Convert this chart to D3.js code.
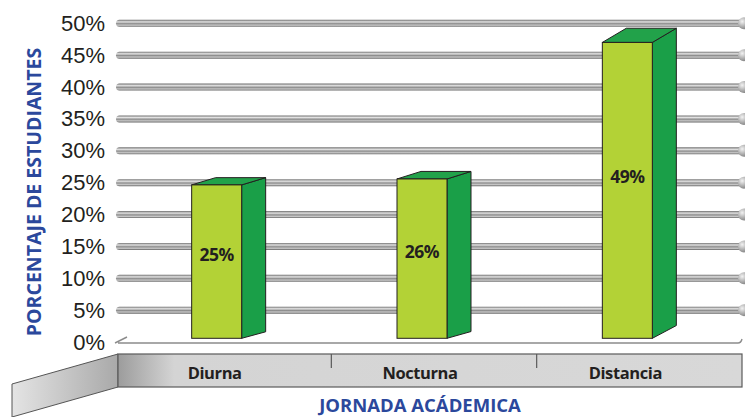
<!doctype html>
<html lang="es">
<head>
  <meta charset="utf-8">
  <title>Jornada académica</title>
  <style>
  body {
    margin: 0;
    background: #fff;
  }
  svg {
    display: block;
    font-family: "Open Sans", sans-serif;
  }
  .tick text {
    font-size: 22px;
    fill: #231f20;
  }
  .cat-label, .bar-label {
    font-weight: bold;
    fill: #231f20;
  }
  .title {
    font-weight: bold;
    fill: #2b489c;
  }
  </style>
</head>
<body>
  <div id="chart"></div>
  <script src="https://d3js.org/d3.v7.min.js"></script>
  <script>
var categories = ["Diurna", "Nocturna", "Distancia"];
var values = [25, 26, 49];
var tickValues = [0, 5, 10, 15, 20, 25, 30, 35, 40, 45, 50];
var yTitle = "PORCENTAJE DE ESTUDIANTES";
var xTitle = "JORNADA ACÁDEMICA";

(function() {

  var width = 745;
  var height = 417;

  var svg = d3.select("#chart")
      .append("svg")
      .attr("width", width)
      .attr("height", height);

  var defs = svg.append("defs");

  // tube look for the gridlines
  var tube = defs.append("linearGradient")
      .attr("id", "tube").attr("x1", 0).attr("y1", 0).attr("x2", 0).attr("y2", 1);
  [["0%", "#6e6e6e"], ["30%", "#e2e2e2"], ["55%", "#8e8e8e"], ["78%", "#c8c8c8"], ["100%", "#666"]]
    .forEach(function(s) { tube.append("stop").attr("offset", s[0]).attr("stop-color", s[1]); });

  var ball = defs.append("radialGradient")
      .attr("id", "ball").attr("cx", "35%").attr("cy", "35%").attr("r", "65%");
  ball.append("stop").attr("offset", "0%").attr("stop-color", "#f2f2f2");
  ball.append("stop").attr("offset", "100%").attr("stop-color", "#8a8a8a");

  var strip = defs.append("linearGradient")
      .attr("id", "strip").attr("x1", 0).attr("y1", 0).attr("x2", 1).attr("y2", 0);
  [["0%", "#9c9c9c"], ["9%", "#d4d4d4"], ["100%", "#d8d8d8"]]
    .forEach(function(s) { strip.append("stop").attr("offset", s[0]).attr("stop-color", s[1]); });

  var wing = defs.append("linearGradient")
      .attr("id", "wing").attr("x1", 0).attr("y1", 0).attr("x2", 1).attr("y2", 0);
  wing.append("stop").attr("offset", "0%").attr("stop-color", "#e4e4e4");
  wing.append("stop").attr("offset", "100%").attr("stop-color", "#a9a9a9");

  var y = d3.scaleLinear().domain([0, 50]).range([342, 23.3]);
  // bars are drawn a bit deeper in the scene
  var yBar = d3.scaleLinear().domain([0, 50]).range([333.3, 36.5]);
  var x = d3.scaleBand().domain(categories).range([126, 742]);

  var left = 116, right = 744;
  var floorY = y(0);
  var barBottom = 338.3;
  var frontW = 50, depthX = 24;

  // y tick labels
  var yAxis = d3.axisLeft(y)
      .tickValues(tickValues)
      .tickFormat(function(d) { return d + "%"; })
      .tickSize(0)
      .tickPadding(0);
  var ga = svg.append("g")
      .attr("transform", "translate(105,0)")
      .call(yAxis);
  ga.select(".domain").remove();
  ga.selectAll("text").attr("font-family", null).attr("font-size", null);

  // gridlines
  var grid = svg.append("g");
  var gv = tickValues.filter(function(d) { return d > 0; });
  grid.selectAll("rect").data(gv).enter().append("rect")
      .attr("x", left)
      .attr("y", function(d) { return y(d) - 3.5; })
      .attr("width", right - left)
      .attr("height", 7)
      .attr("rx", 3.5)
      .attr("fill", "url(#tube)");
  grid.selectAll("circle").data(gv).enter().append("circle")
      .attr("cx", right)
      .attr("cy", function(d) { return y(d); })
      .attr("r", 6)
      .attr("fill", "url(#ball)");

  // floor line
  svg.append("path")
      .attr("d", "M" + (left - 1) + "," + (floorY + 1) + "L" + (left + 11) + "," + (floorY - 5) +
        "M" + (left + 2) + "," + (floorY + 1) + "H" + (right - 6) + "Q" + (right - 3) + "," + (floorY + 1) + " " + (right - 2) + "," + (floorY - 3))
      .attr("fill", "none")
      .attr("stroke", "#8c8c8c")
      .attr("stroke-width", 1.4);

  // bars
  var bars = svg.append("g").selectAll("g").data(values).enter().append("g");

  function geom(d, i) {
    var c = x(categories[i]) + x.bandwidth() / 2;
    var x0 = c - (frontW + depthX) / 2;
    var x1 = x0 + frontW;
    var top = yBar(d);
    return { x0: x0, x1: x1, top: top, dt: -0.29 * d, db: -0.26 * d };
  }

  bars.append("path")
      .attr("d", function(d, i) {
        var g = geom(d, i);
        return "M" + g.x1 + "," + g.top + "L" + (g.x1 + depthX) + "," + (g.top + g.dt) +
          "L" + (g.x1 + depthX) + "," + (barBottom + g.db) + "L" + g.x1 + "," + barBottom + "Z";
      })
      .attr("fill", "#1a9f48")
      .attr("stroke", "#231f20")
      .attr("stroke-width", 1)
      .attr("stroke-linejoin", "round");

  bars.append("path")
      .attr("d", function(d, i) {
        var g = geom(d, i);
        return "M" + g.x0 + "," + g.top + "L" + (g.x0 + depthX) + "," + (g.top + g.dt) +
          "L" + (g.x1 + depthX) + "," + (g.top + g.dt) + "L" + g.x1 + "," + g.top + "Z";
      })
      .attr("fill", "#22a24a")
      .attr("stroke", "#231f20")
      .attr("stroke-width", 1)
      .attr("stroke-linejoin", "round");

  bars.append("rect")
      .attr("x", function(d, i) { return geom(d, i).x0; })
      .attr("y", function(d, i) { return geom(d, i).top; })
      .attr("width", frontW)
      .attr("height", function(d, i) { return barBottom - geom(d, i).top; })
      .attr("fill", "#b3d236")
      .attr("stroke", "#231f20")
      .attr("stroke-width", 1);

  bars.append("text")
      .attr("class", "bar-label")
      .attr("x", function(d, i) { return geom(d, i).x0 + frontW / 2; })
      .attr("y", function(d, i) { var g = geom(d, i); return g.top + (barBottom - g.top) * 0.45; })
      .attr("text-anchor", "middle")
      .attr("dominant-baseline", "central")
      .attr("font-size", 17.5)
      .attr("letter-spacing", -0.5)
      .text(function(d) { return d + "%"; });

  // category strip
  var stripTop = 354, stripBottom = 387;
  svg.append("path")
      .attr("d", "M" + (left + 2) + "," + stripTop + "L12,384L12,417L" + (left + 2) + "," + stripBottom + "Z")
      .attr("fill", "url(#wing)")
      .attr("stroke", "#555")
      .attr("stroke-width", 1);
  svg.append("rect")
      .attr("x", left + 2)
      .attr("y", stripTop)
      .attr("width", 742 - left - 2)
      .attr("height", stripBottom - stripTop)
      .attr("fill", "url(#strip)")
      .attr("stroke", "#5a5a5a")
      .attr("stroke-width", 1.2);

  svg.append("g").selectAll("line").data(categories.slice(1)).enter().append("line")
      .attr("x1", function(d) { return x(d); })
      .attr("x2", function(d) { return x(d); })
      .attr("y1", stripTop)
      .attr("y2", stripTop + 14)
      .attr("stroke", "#5a5a5a")
      .attr("stroke-width", 1.2);

  svg.append("g").selectAll("text").data(categories).enter().append("text")
      .attr("class", "cat-label")
      .attr("x", function(d) { return x(d) + x.bandwidth() / 2 - 14; })
      .attr("y", 372)
      .attr("text-anchor", "middle")
      .attr("dominant-baseline", "central")
      .attr("font-size", 16.5)
      .attr("letter-spacing", -0.4)
      .text(function(d) { return d; });

  // titles
  svg.append("text")
      .attr("class", "title")
      .attr("transform", "translate(41,192) rotate(-90)")
      .attr("text-anchor", "middle")
      .attr("font-size", 19.5)
      .text(yTitle);

  svg.append("text")
      .attr("class", "title")
      .attr("x", 420)
      .attr("y", 412)
      .attr("text-anchor", "middle")
      .attr("font-size", 18.5)
      .text(xTitle);

})();
  </script>
</body>
</html>
